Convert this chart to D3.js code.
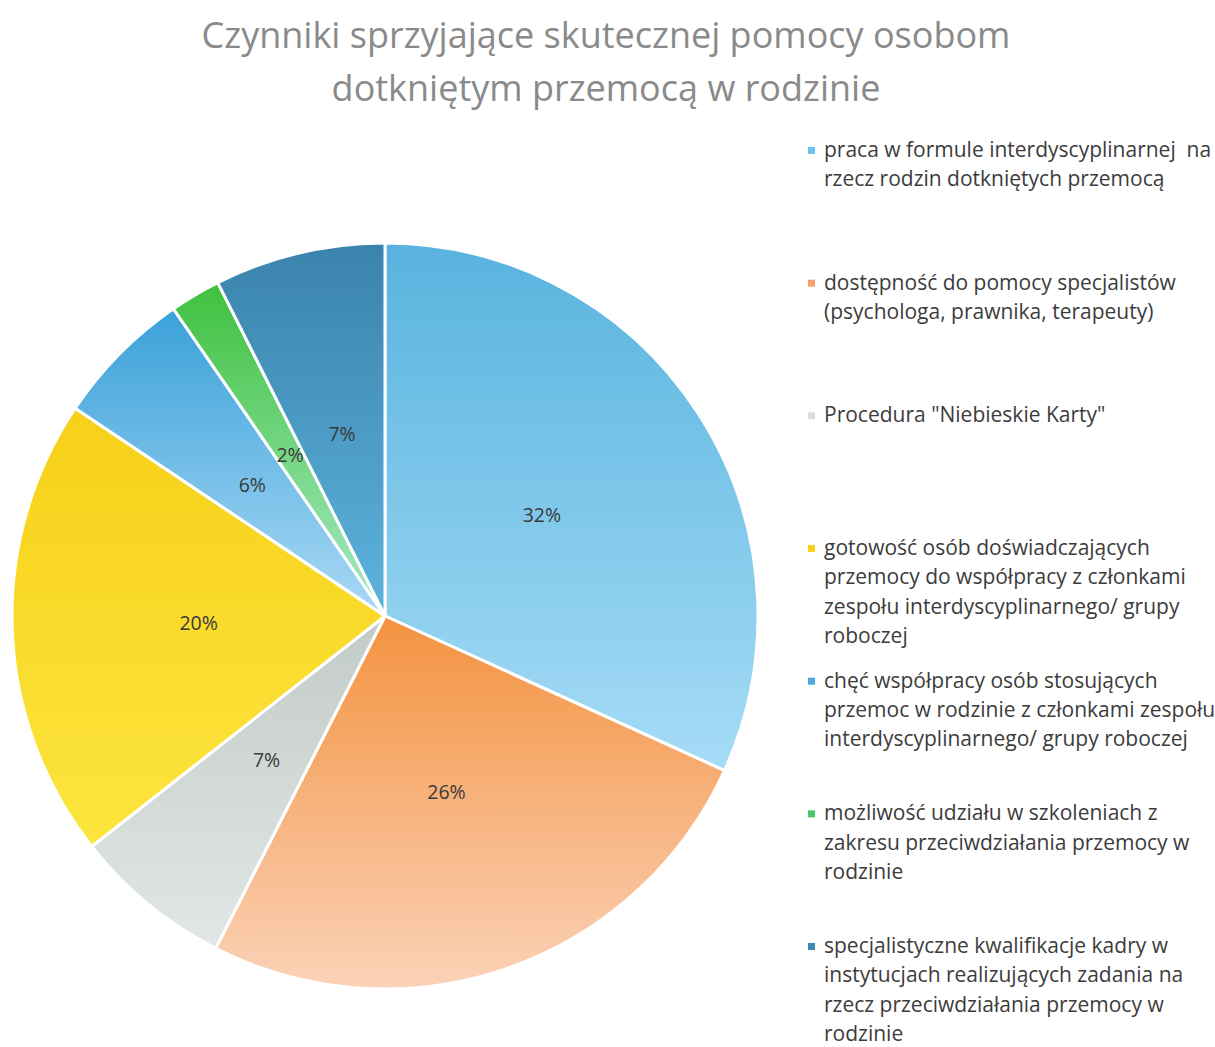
<!DOCTYPE html>
<html>
<head>
<meta charset="utf-8">
<script src="https://cdn.jsdelivr.net/npm/d3@7"></script>
<style>
  body { margin: 0; background: #fff; }
  text { font-family: "Open Sans", Lato, sans-serif; white-space: pre; }
</style>
</head>
<body>
<div id="chart"></div>
<script>
// chart data
var titleLines = ["Czynniki sprzyjające skutecznej pomocy osobom", "dotkniętym przemocą w rodzinie"];
var shares = [31.8, 25.7, 6.9, 20.0, 6.0, 2.2, 7.4];
var legendLines = [
	["praca w formule interdyscyplinarnej  na", "rzecz rodzin dotkniętych przemocą"],
	["dostępność do pomocy specjalistów", "(psychologa, prawnika, terapeuty)"],
	["Procedura \"Niebieskie Karty\""],
	["gotowość osób doświadczających", "przemocy do współpracy z członkami", "zespołu interdyscyplinarnego/ grupy", "roboczej"],
	["chęć współpracy osób stosujących", "przemoc w rodzinie z członkami zespołu", "interdyscyplinarnego/ grupy roboczej"],
	["możliwość udziału w szkoleniach z", "zakresu przeciwdziałania przemocy w", "rodzinie"],
	["specjalistyczne kwalifikacje kadry w", "instytucjach realizujących zadania na", "rzecz przeciwdziałania przemocy w", "rodzinie"]
];
// top / bottom colour of each slice gradient, and legend swatch colour
var topColors = ["#58b3de", "#f3923f", "#c3cbc8", "#f6d018", "#3aa1d9", "#3fc13d", "#3a83ac"];
var bottomColors = ["#a6dcf6", "#fbd2b8", "#e0e7e5", "#fde53e", "#aad9f5", "#a8eac8", "#5db3dc"];
var swatchColors = ["#6cc4ec", "#f6a06a", "#d6dedb", "#f7d21d", "#4aa8df", "#46c86a", "#3b89b4"];

var W = 1215, H = 1047;
var CX = 385, CY = 616, R = 373;

var svg = d3.select("#chart").append("svg").attr("width", W).attr("height", H);

// title
svg.append("g").attr("class", "title").selectAll("text").data(titleLines).enter()
	.append("text")
	.attr("x", 606).attr("y", function(d, i) { return 48 + i * 53; })
	.attr("text-anchor", "middle")
	.style("font-size", "36px")
	.style("fill", "#8a8a8a")
	.text(function(d) { return d; });

// gradients, one per slice
var defs = svg.append("defs");
shares.forEach(function(d, i) {
	var g = defs.append("linearGradient").attr("id", "grad" + i)
		.attr("x1", 0).attr("y1", 0).attr("x2", 0).attr("y2", 1);
	g.append("stop").attr("offset", "0%").attr("stop-color", topColors[i]);
	g.append("stop").attr("offset", "100%").attr("stop-color", bottomColors[i]);
});

var pie = d3.pie().sort(null).value(function(d) { return d; });
var arc = d3.arc().innerRadius(0).outerRadius(R);
var arcs = pie(shares);

var pieG = svg.append("g").attr("transform", "translate(" + CX + "," + CY + ")");
pieG.selectAll("path.slice").data(arcs).enter().append("path")
	.attr("class", "slice")
	.attr("d", arc)
	.attr("fill", function(d, i) { return "url(#grad" + i + ")"; })
	.attr("stroke", "#fff")
	.attr("stroke-width", 3)
	.attr("stroke-linejoin", "round");

// percentage labels at the centroid
pieG.selectAll("text.pct").data(arcs).enter().append("text")
	.attr("class", "pct")
	.attr("transform", function(d) { return "translate(" + arc.centroid(d) + ")"; })
	.attr("text-anchor", "middle")
	.attr("dy", "0.35em")
	.style("font-size", "19.5px")
	.style("fill", "#3a3a3a")
	.text(function(d) { return Math.round(d.value) + "%"; });

// legend
var legend = svg.append("g").attr("class", "legend").attr("transform", "translate(808,0)");
var itemY = d3.scaleLinear().domain([0, legendLines.length - 1]).range([150, 946]);
legendLines.forEach(function(lines, i) {
	var y0 = itemY(i);
	legend.append("rect").attr("x", 0).attr("y", y0 - 3).attr("width", 7).attr("height", 7)
		.attr("fill", swatchColors[i]);
	legend.append("text").attr("x", 16).attr("y", y0 + 7)
		.style("font-size", "21px")
		.style("fill", "#3c3c3c")
		.selectAll("tspan").data(lines).enter().append("tspan")
		.attr("x", 16).attr("dy", function(d, j) { return j === 0 ? 0 : 29.3; })
		.text(function(d) { return d; });
});
</script>
</body>
</html>
